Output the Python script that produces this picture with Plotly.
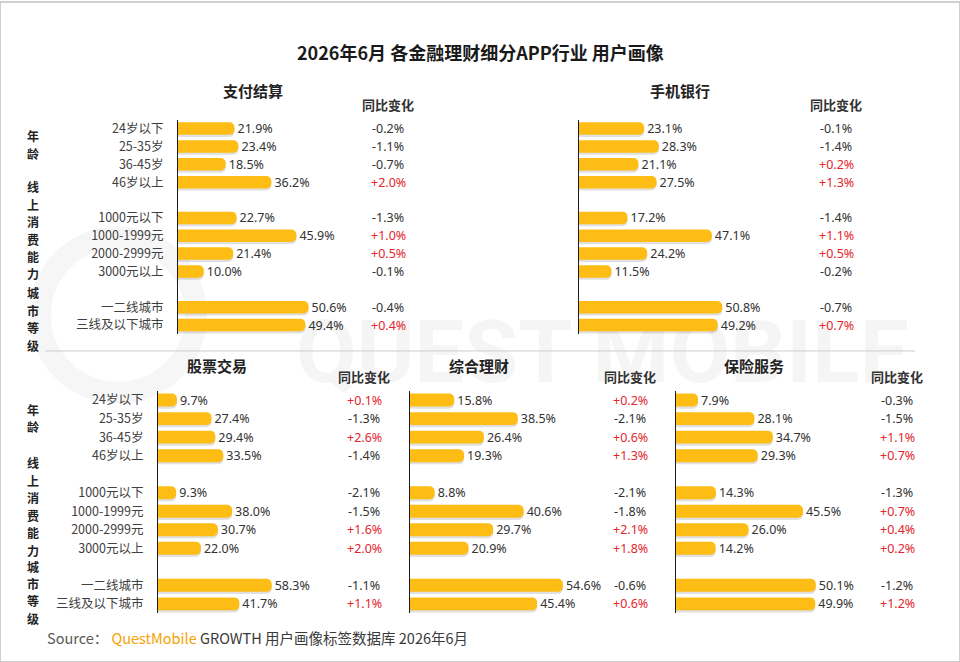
import plotly.graph_objects as go

W, H = 960, 662

# row categories (the blank slots keep the gaps between the three groups)
age = ['24岁以下', '25-35岁', '36-45岁', '46岁以上']
spend = ['1000元以下', '1000-1999元', '2000-2999元', '3000元以上']
city = ['一二线城市', '三线及以下城市']
categories = age + spend + city
slots = age + [' '] + spend + ['  '] + city

group_names = ['年龄', '线上消费能力', '城市等级']

# share of users (%) and year-on-year change (pct points)
pay_share = [21.9, 23.4, 18.5, 36.2, 22.7, 45.9, 21.4, 10.0, 50.6, 49.4]
pay_yoy = [-0.2, -1.1, -0.7, 2.0, -1.3, 1.0, 0.5, -0.1, -0.4, 0.4]

bank_share = [23.1, 28.3, 21.1, 27.5, 17.2, 47.1, 24.2, 11.5, 50.8, 49.2]
bank_yoy = [-0.1, -1.4, 0.2, 1.3, -1.4, 1.1, 0.5, -0.2, -0.7, 0.7]

stock_share = [9.7, 27.4, 29.4, 33.5, 9.3, 38.0, 30.7, 22.0, 58.3, 41.7]
stock_yoy = [0.1, -1.3, 2.6, -1.4, -2.1, -1.5, 1.6, 2.0, -1.1, 1.1]

wealth_share = [15.8, 38.5, 26.4, 19.3, 8.8, 40.6, 29.7, 20.9, 54.6, 45.4]
wealth_yoy = [0.2, -2.1, 0.6, 1.3, -2.1, -1.8, 2.1, 1.8, -0.6, 0.6]

insur_share = [7.9, 28.1, 34.7, 29.3, 14.3, 45.5, 26.0, 14.2, 50.1, 49.9]
insur_yoy = [-0.3, -1.5, 1.1, 0.7, -1.3, 0.7, 0.4, 0.2, -1.2, 1.2]

FONT = 'Noto Sans CJK SC'
NUMFONT = 'Noto Sans, Noto Sans CJK SC'
BAR = '#FDBD14'
UP = '#E3262D'
DOWN = '#333333'


def px(x):
    return x / W


def py(y):
    return 1 - y / H


def label(text, x, y, size, color='#222222', family=FONT, **kw):
    d = dict(text=text, x=x, y=y, xref='paper', yref='paper', showarrow=False,
             xanchor='center', yanchor='middle',
             font=dict(family=family, size=size, color=color))
    d.update(kw)
    return d


# pixel layout of the two rows: axis top, axis bottom, title y, header y
rows = {
    'top': (118, 333, 89, 103),
    'bottom': (390, 613, 365, 376),
}

# name, shares, yoy, row, axis x, px per %, yoy column x, title x, show labels
panels = [
    ('支付结算', pay_share, pay_yoy, 'top', 178, 2.58, 388, 253, True),
    ('手机银行', bank_share, bank_yoy, 'top', 579, 2.82, 836, 680, False),
    ('股票交易', stock_share, stock_yoy, 'bottom', 158, 1.95, 364, 217, True),
    ('综合理财', wealth_share, wealth_yoy, 'bottom', 410, 2.8, 630, 479, False),
    ('保险服务', insur_share, insur_yoy, 'bottom', 676, 2.79, 897, 754, False),
]

PW = 175
BW = 0.7
fig = go.Figure()
annotations = []
layout_axes = {}

for i, (name, shares, yoy, row, ax_x, scale, yoy_x, title_x, show) in enumerate(panels):
    n = '' if i == 0 else str(i + 1)
    xa, ya = 'x' + n, 'y' + n
    top, bottom, title_y, head_y = rows[row]

    # soft shadow under each bar
    fig.add_trace(go.Bar(
        y=categories, x=shares, orientation='h', xaxis=xa, yaxis=ya,
        marker=dict(color='rgba(0,0,0,0.12)', line=dict(width=0)),
        width=BW, offset=-BW / 2 + 0.12, hoverinfo='skip', showlegend=False,
    ))
    fig.add_trace(go.Bar(
        y=categories, x=shares, orientation='h', xaxis=xa, yaxis=ya,
        marker=dict(color=BAR, line=dict(width=0)),
        width=BW, offset=-BW / 2,
        text=[f'{v:.1f}%' for v in shares], textposition='outside',
        constraintext='none', cliponaxis=False,
        textfont=dict(family=NUMFONT, size=12.5, color='#333333'),
        showlegend=False, name=name,
    ))

    layout_axes['xaxis' + n] = dict(
        domain=[px(ax_x), px(ax_x + PW)], range=[0, PW / scale],
        visible=False, anchor=ya, fixedrange=True,
    )
    layout_axes['yaxis' + n] = dict(
        domain=[py(bottom), py(top)], anchor=xa,
        type='category', categoryorder='array', categoryarray=slots,
        range=[len(slots) - 0.5, -0.5],
        showline=True, linecolor='#1a1a1a', linewidth=1,
        showgrid=False, zeroline=False, ticks='',
        showticklabels=show, ticklabelstandoff=11,
        tickfont=dict(family=FONT, size=12.5, color='#404040'),
        fixedrange=True,
    )

    annotations.append(label(f'<b>{name}</b>', px(title_x), py(title_y), 15))
    annotations.append(label('<b>同比变化</b>', px(yoy_x), py(head_y), 13, '#333333'))
    for cat, d in zip(categories, yoy):
        annotations.append(dict(
            text=f'{d:+.1f}%', x=px(yoy_x), y=cat,
            xref='paper', yref=ya, showarrow=False,
            xanchor='center', yanchor='middle',
            font=dict(family=NUMFONT, size=12.5, color=UP if d > 0 else DOWN),
        ))

# vertical group labels on the left of both rows, one character per line
CHAR_STEP = 17.5
group_y = {'top': [143, 229, 318], 'bottom': [417, 506, 592]}
for row, ys in group_y.items():
    for g, yc in zip(group_names, ys):
        y0 = yc - CHAR_STEP * (len(g) - 1) / 2
        for k, c in enumerate(g):
            annotations.append(label(f'<b>{c}</b>', px(33),
                                     py(y0 + k * CHAR_STEP), 12, borderpad=0))

annotations.append(label('<b>2026年6月 各金融理财细分APP行业 用户画像</b>',
                         0.5, py(50), 18, '#1a1a1a'))
annotations.append(label(
    ("<span style='color:#595959'>Source：</span> "
     "<span style='color:#F5A300'>QuestMobile</span> "
     "GROWTH 用户画像标签数据库 2026年6月"),
    px(45), py(637), 14.5, '#3a3a3a', xanchor='left'))

shapes = [
    # page frame
    dict(type='rect', xref='paper', yref='paper', x0=0, x1=1, y0=0, y1=1,
         line=dict(color='#cfcfcf', width=2)),
    # separator between rows
    dict(type='line', xref='paper', yref='paper', x0=px(45), x1=px(915),
         y0=py(350), y1=py(350), line=dict(color='#cccccc', width=1)),
    # faint watermark
    dict(type='circle', xref='paper', yref='paper', layer='below',
         x0=px(40), x1=px(196), y0=py(392), y1=py(236),
         line=dict(color='rgba(0,0,0,0.035)', width=22)),
    dict(type='rect', xref='paper', yref='paper', layer='below',
         x0=px(285), x1=px(920), y0=py(385), y1=py(305),
         line=dict(width=0), fillcolor='rgba(0,0,0,0)',
         label=dict(text='QUEST MOBILE', textposition='middle center',
                    font=dict(family='Roboto', size=88, weight='bold',
                              color='rgba(0,0,0,0.04)'))),
]

fig.update_layout(
    width=W, height=H,
    margin=dict(l=0, r=0, t=0, b=0),
    paper_bgcolor='white', plot_bgcolor='rgba(0,0,0,0)',
    barmode='overlay', barcornerradius=5,
    font=dict(family=FONT),
    annotations=annotations, shapes=shapes,
    **layout_axes,
)

fig.write_html('out.html', config={'displayModeBar': False},
               post_script="document.body.style.margin='0px';")
